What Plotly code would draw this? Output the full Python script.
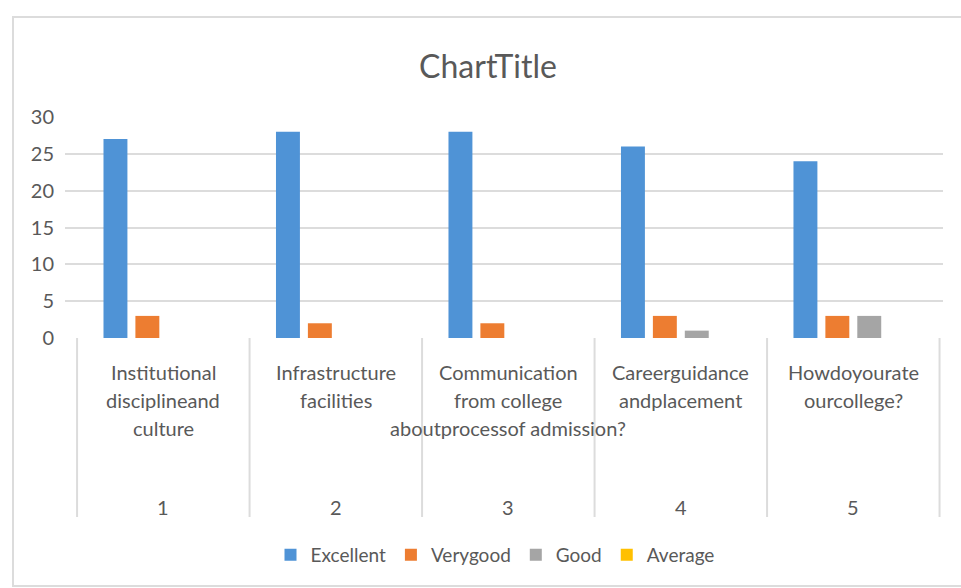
import plotly.graph_objects as go

# ---- data ----
categories = ["1", "2", "3", "4", "5"]
category_labels = [
    ["Institutional", "disciplineand", "culture"],
    ["Infrastructure", "facilities"],
    ["Communication", "from college", "aboutprocessof admission?"],
    ["Careerguidance", "andplacement"],
    ["Howdoyourate", "ourcollege?"],
]
series_names = ["Excellent", "Verygood", "Good", "Average"]
excellent = [27, 28, 28, 26, 24]
verygood = [3, 2, 2, 3, 3]
good = [0, 0, 0, 1, 3]
average = [0, 0, 0, 0, 0]
series_values = [excellent, verygood, good, average]
colors = ["#4F93D6", "#ED7D31", "#A5A5A5", "#FFC000"]
y_ticks = [0, 5, 10, 15, 20, 25, 30]

FONT = "Lato"
TXT = "#595959"
GRID = "#DCDCDC"

fig = go.Figure()
for name, vals, col in zip(series_names, series_values, colors):
    fig.add_trace(go.Bar(x=categories, y=vals, name=name, marker_color=col,
                         marker_line_width=0))

# geometry (pixels): plot area left 65, right 943, top 117, bottom 338
W, H = 961, 588
L, R, T, B = 65, 943, 117, 338
ph = B - T

shapes = []
# category dividers of the multi-level axis
for i in range(len(categories) + 1):
    shapes.append(dict(type="line", xref="x", yref="paper",
                       x0=i - 0.5, x1=i - 0.5, y0=0, y1=-(517 - B) / ph,
                       line=dict(color=GRID, width=2)))
# chart border
shapes.append(dict(type="rect", xref="paper", yref="paper",
                   x0=(13 - L) / (R - L), x1=(968 - L) / (R - L),
                   y0=-(586 - B) / ph, y1=(B - 17) / ph,
                   line=dict(color=GRID, width=2), fillcolor="rgba(0,0,0,0)"))

annotations = []
for i, (cat, lines) in enumerate(zip(categories, category_labels)):
    for j, line in enumerate(lines):
        ypx = 372 + 28 * j
        annotations.append(dict(x=i, xref="x", yref="paper",
                                y=-(ypx - B) / ph, yanchor="middle",
                                text=line, showarrow=False,
                                font=dict(family=FONT, size=20, color=TXT)))
    annotations.append(dict(x=i, xref="x", yref="paper",
                            y=-(507 - B) / ph, yanchor="middle",
                            text=cat, showarrow=False,
                            font=dict(family=FONT, size=20, color=TXT)))

fig.update_layout(
    width=W, height=H,
    margin=dict(l=L, r=W - R, t=T, b=H - B, pad=0),
    paper_bgcolor="white", plot_bgcolor="white",
    title=dict(text="ChartTitle", x=488 / W, xref="container", xanchor="center",
               y=1 - 67 / H, yref="container", yanchor="middle",
               font=dict(family=FONT, size=32, color=TXT)),
    barmode="group", bargap=0.26, bargroupgap=0.25,
    xaxis=dict(range=[-0.57, 4.52], showticklabels=False, showgrid=False,
               zeroline=False, showline=False, ticks=""),
    yaxis=dict(range=[0, 30], tickvals=y_ticks, showgrid=True, gridcolor=GRID,
               gridwidth=2, zeroline=False, showline=False, ticks="",
               ticklabelstandoff=10,
               tickfont=dict(family=FONT, size=20, color=TXT)),
    legend=dict(orientation="h", x=495 / W, xref="container", xanchor="center",
                y=1 - 555 / H, yref="container", yanchor="middle",
                font=dict(family=FONT, size=19, color=TXT),
                itemwidth=30, traceorder="normal"),
    shapes=shapes,
    annotations=annotations,
    showlegend=True,
)

fig.write_html("out.html")
